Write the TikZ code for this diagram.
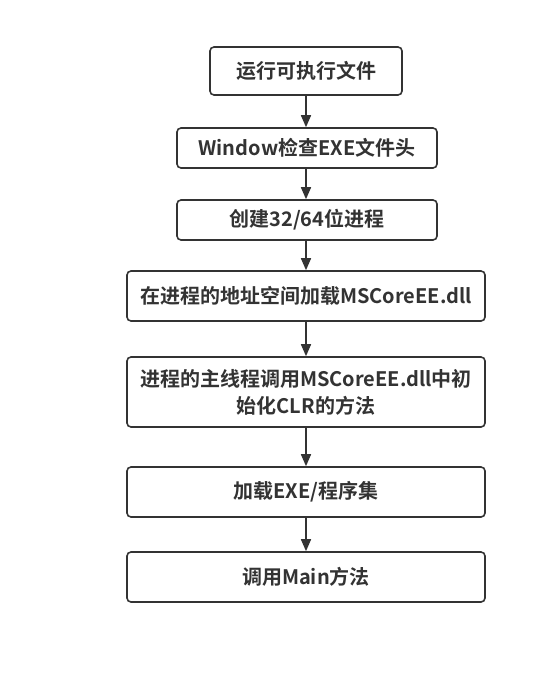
\documentclass[tikz,border=0pt]{standalone}
\usepackage{fontspec}
\setmainfont{Noto Sans CJK SC}[BoldFont={* Bold}]
\usetikzlibrary{arrows.meta}
\definecolor{ink}{HTML}{333333}
\begin{document}
\begin{tikzpicture}[x=1pt,y=-1pt,
  boxstyle/.style={draw=ink,line width=1.6pt,rounded corners=4pt,fill=white,
    inner sep=0pt,align=center,text=ink,font=\fontsize{20}{27}\selectfont\bfseries},
  flow/.style={draw=ink,line width=1.6pt,-{Triangle[length=12pt,width=10pt]}}]
\useasboundingbox (0,0) rectangle (556,682);
\node[boxstyle,minimum width=192pt,minimum height=48pt] (b1) at (306,71) {运行可执行文件};
\node[boxstyle,minimum width=260pt,minimum height=40pt] (b2) at (307,148) {Window检查EXE文件头};
\node[boxstyle,minimum width=260pt,minimum height=40pt] (b3) at (307,220) {创建32/64位进程};
\node[boxstyle,minimum width=358pt,minimum height=50pt] (b4) at (306,296) {在进程的地址空间加载MSCoreEE.dll};
\node[boxstyle,minimum width=358pt,minimum height=70pt] (b5) at (306,392) {进程的主线程调用MSCoreEE.dll中初\\始化CLR的方法};
\node[boxstyle,minimum width=358pt,minimum height=50pt] (b6) at (306,492) {加载EXE/程序集};
\node[boxstyle,minimum width=358pt,minimum height=50pt] (b7) at (306,577) {调用Main方法};
\draw[flow] (b1.south) -- (b1.south |- b2.north);
\draw[flow] (b2.south -| b1.south) -- (b1.south |- b3.north);
\draw[flow] (b3.south -| b1.south) -- (b1.south |- b4.north);
\draw[flow] (b4.south) -- (b5.north);
\draw[flow] (b5.south) -- (b6.north);
\draw[flow] (b6.south) -- (b7.north);
\end{tikzpicture}
\end{document}
